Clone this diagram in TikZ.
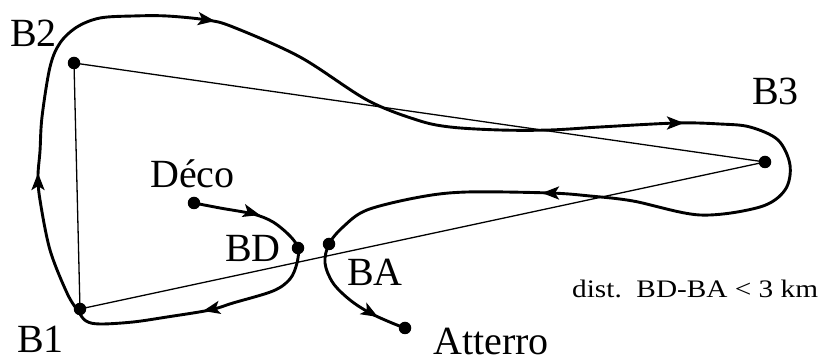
\documentclass[tikz,border=0pt]{standalone}
\usepackage{fontspec}
\setmainfont{Liberation Serif}
\usetikzlibrary{arrows.meta}
\begin{document}
\begin{tikzpicture}[x=1pt,y=1pt,
  dot/.style={circle,fill=black,inner sep=0pt,minimum size=12.5pt},
  thinline/.style={line width=1.3pt},
  course/.style={line width=2.9pt,line join=round,line cap=round},
  arr/.style={line width=2.9pt,-{Stealth[length=17pt,width=13pt,inset=4pt]}},
  lbl/.style={anchor=base west,inner sep=0pt,font=\fontsize{40}{40}\selectfont},
  small/.style={anchor=base west,inner sep=0pt,font=\fontsize{24}{24}\selectfont}]
\useasboundingbox (0,0) rectangle (823,361);
% turnpoints
\node[dot] (b2) at (74,298) {};
\node[dot] (b1) at (80,52) {};
\node[dot] (b3) at (765,199) {};
\node[dot] (bd) at (298,113) {};
\node[dot] (ba) at (329,117) {};
\node[dot] (deco) at (194,158) {};
\node[dot] (att) at (405,33) {};
% labels
\node[lbl] (lb2) at (10,314) {B2};
\node[lbl] (lb1) at (17,8) {B1};
\node[lbl] (lb3) at (752,256) {B3};
\node[lbl] (ldeco) at (150,173) {Déco};
\node[lbl] (lbd) at (225,99) {BD};
\node[lbl] (lba) at (347,75) {BA};
\node[lbl] (latt) at (433,6) {Atterro};
\node[small] (ldist) at (572,63) {\scalebox{1.22}[1.05]{dist.\ \ BD-BA < 3 km}};
% triangle
\draw[thinline] (b2.center) -- (b1.center);
\draw[thinline] (b2.center) -- (b3.center);
\draw[thinline] (b1.center) -- (b3.center);
% course
\draw[course] plot[smooth,tension=0.55] coordinates {
 (deco.center) (220,153) (253,147) (273,139) (290,125) (298,113)
 (297,98) (290,82) (273,70) (233,58) (210,51) (167,44) (133,39) (100,37) (86,40) (78,50)
 (67,68) (50,111) (40,161) (38,185) (40,210) (42,244) (50,294) (60,318) (77,334) (100,343)
 (133,345) (167,345) (207,341) (233,334) (300,304) (367,261) (417,241) (450,234) (500,231)
 (550,231) (600,234) (677,238) (720,237) (750,234) (778,221) (790,196) (785,171) (760,154)
 (700,146) (633,160) (590,165) (550,168) (467,169) (420,164) (367,151) (343,134) (ba.center)
 (325,98) (333,78) (350,61) (370,48) (392,38) (att.center)};
% direction arrows
\draw[arr] (260,146) ++(165:8) -- (260,146);
\draw[arr] (203,50) ++(12:8) -- (203,50);
\draw[arr] (38,188) ++(-90:8) -- (38,188);
\draw[arr] (215,340) ++(172:8) -- (215,340);
\draw[arr] (684,238) ++(180:8) -- (684,238);
\draw[arr] (542,168) ++(0:8) -- (542,168);
\draw[arr] (378,44) ++(150:8) -- (378,44);
\end{tikzpicture}
\end{document}
